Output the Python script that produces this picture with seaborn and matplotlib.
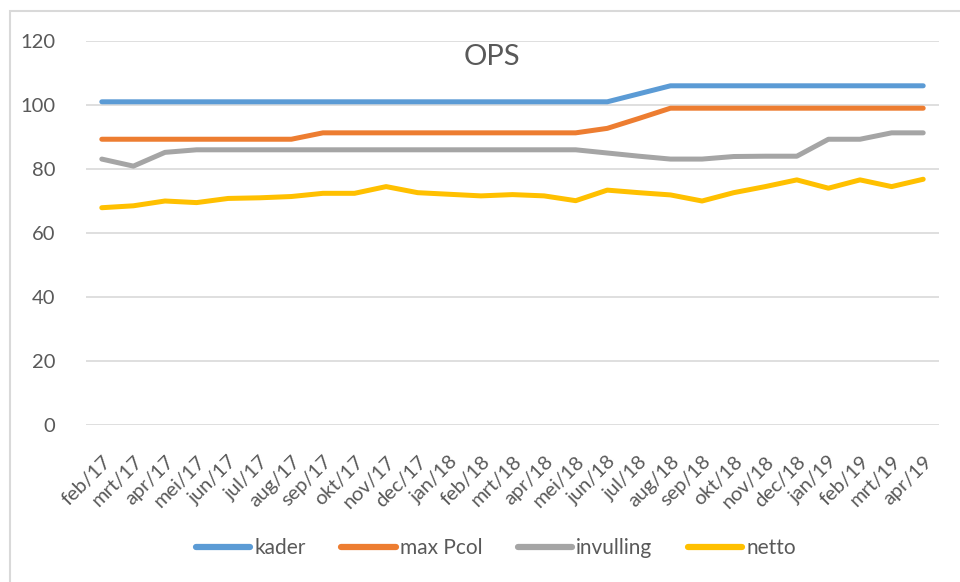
import matplotlib
matplotlib.use("Agg")
import matplotlib.pyplot as plt
import seaborn as sns
import pandas as pd
from matplotlib.patches import Rectangle

months = ["feb/17", "mrt/17", "apr/17", "mei/17", "jun/17", "jul/17", "aug/17",
          "sep/17", "okt/17", "nov/17", "dec/17", "jan/18", "feb/18", "mrt/18",
          "apr/18", "mei/18", "jun/18", "jul/18", "aug/18", "sep/18", "okt/18",
          "nov/18", "dec/18", "jan/19", "feb/19", "mrt/19", "apr/19"]

kader = [101, 101, 101, 101, 101, 101, 101, 101, 101, 101, 101, 101, 101, 101,
         101, 101, 101, 103.5, 106, 106, 106, 106, 106, 106, 106, 106, 106]
max_pcol = [89.3, 89.3, 89.3, 89.3, 89.3, 89.3, 89.3, 91.3, 91.3, 91.3, 91.3, 91.3, 91.3, 91.3,
            91.3, 91.3, 92.7, 95.8, 99, 99, 99, 99, 99, 99, 99, 99, 99]
invulling = [83.1, 80.9, 85.2, 86.0, 86, 86, 86, 86, 86, 86, 86, 86, 86, 86,
             86, 86, 85.0, 84.0, 83.1, 83.1, 83.9, 84, 84, 89.3, 89.3, 91.3, 91.3]
netto = [67.9, 68.5, 70.0, 69.5, 70.8, 71.0, 71.4, 72.4, 72.4, 74.5, 72.6, 72.1, 71.6, 72.0,
         71.6, 70.1, 73.4, 72.6, 71.9, 70.0, 72.6, 74.5, 76.6, 74.0, 76.6, 74.5, 76.8]

series_names = ["kader", "max Pcol", "invulling", "netto"]
series_values = [kader, max_pcol, invulling, netto]
colors = ["#5B9BD5", "#ED7D31", "#A5A5A5", "#FFC000"]
y_ticks = [0, 20, 40, 60, 80, 100, 120]

rows = []
for name, vals in zip(series_names, series_values):
    for i, (m, v) in enumerate(zip(months, vals)):
        rows.append({"idx": i, "maand": m, "serie": name, "waarde": v})
df = pd.DataFrame(rows)

sns.set_theme(style="white")
plt.rcParams["font.family"] = ["Lato", "DejaVu Sans"]
txt = "#595959"

fig = plt.figure(figsize=(9.6, 5.82), dpi=100)
ax = fig.add_axes([86 / 960, 1 - 425 / 582, (939 - 86) / 960, (425 - 41) / 582])

sns.lineplot(data=df, x="idx", y="waarde", hue="serie", hue_order=series_names,
             palette=colors, linewidth=3.6, ax=ax, legend=True)
for ln in ax.lines:
    ln.set_solid_capstyle("round")

ax.set_xlim(-0.5, len(months) - 0.5)
ax.set_ylim(0, 120)
ax.set_yticks(y_ticks)
ax.set_xticks(range(len(months)))
ax.set_xticklabels(months, rotation=45, ha="right", rotation_mode="anchor",
                   fontsize=14.5, color=txt)
ax.tick_params(axis="x", length=0, pad=20)
ax.tick_params(axis="y", length=0, pad=22, labelsize=14.5, labelcolor=txt)
for t in ax.get_yticklabels():
    t.set_color(txt)
ax.yaxis.grid(True, color="#D9D9D9", linewidth=1.2)
ax.set_axisbelow(True)
for s in ax.spines.values():
    s.set_visible(False)
ax.set_xlabel("")
ax.set_ylabel("")

fig.text(492 / 960, 1 - 57 / 582, "OPS", ha="center", va="center", fontsize=21, color=txt)

handles, labels = ax.get_legend_handles_labels()
ax.get_legend().remove()
leg = fig.legend(handles, labels, loc="center", bbox_to_anchor=(496 / 960, 1 - 548 / 582),
                 ncol=4, frameon=False, fontsize=15, handlelength=2.6, columnspacing=1.7,
                 handletextpad=0.2)
for t in leg.get_texts():
    t.set_color(txt)
for h in leg.legend_handles:
    h.set_linewidth(4.5)
    h.set_solid_capstyle("round")

fig.patches.append(Rectangle((10 / 960, -0.05), 1.0, 1 - 11 / 582 + 0.05,
                             transform=fig.transFigure, fill=False,
                             edgecolor="#D9D9D9", linewidth=1.5))

fig.savefig("out.png", dpi=100)
